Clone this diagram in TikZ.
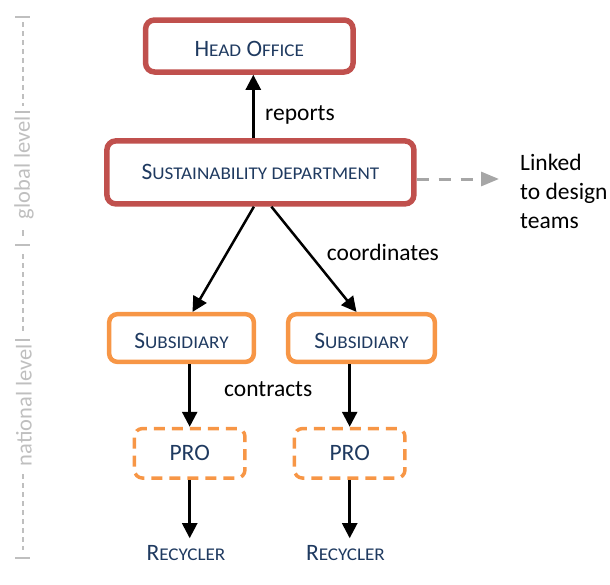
\documentclass[tikz,border=0pt]{standalone}
\usepackage{fontspec}
\setmainfont{Carlito}
\usetikzlibrary{arrows.meta,calc}
\definecolor{boxred}{HTML}{C0504D}
\definecolor{boxorange}{HTML}{F79646}
\definecolor{txtblue}{HTML}{1F3A60}
\definecolor{lvlgray}{HTML}{BFBFBF}
\definecolor{linkgray}{HTML}{A6A6A6}
\newcommand\smc[1]{\scalebox{1.07}[1]{\fontsize{17.9}{20}\selectfont #1}}
\begin{document}
\begin{tikzpicture}[x=1pt,y=-1pt,
  every node/.style={font=\fontsize{23.5}{29}\selectfont},
  redbox/.style={draw=boxred, line width=5.5pt, rounded corners=9pt, text=txtblue, inner sep=0pt},
  orangebox/.style={draw=boxorange, line width=4.5pt, rounded corners=8pt, text=txtblue, inner sep=0pt},
  probox/.style={draw=boxorange, line width=3.5pt, rounded corners=8pt, dash pattern=on 11pt off 7pt, text=txtblue, inner sep=0pt},
  lowtext/.style={text height=21pt, text depth=0pt},
  plaintxt/.style={text=txtblue, inner xsep=0pt, inner ysep=7.5pt},
  flow/.style={line width=2.5pt, -{Triangle[width=15pt,length=15pt]}},
  link/.style={draw=linkgray, line width=3pt, dash pattern=on 12pt off 10pt, -{Triangle[width=14pt,length=18pt,fill=linkgray]}},
  lbl/.style={anchor=base west, inner sep=0pt},
  lvltxt/.style={text=lvlgray, rotate=90, inner sep=0pt, font=\fontsize{22.5}{27}\selectfont},
  lvlline/.style={draw=lvlgray, line width=1.3pt},
  lvldash/.style={draw=lvlgray, line width=1.3pt, dash pattern=on 5pt off 4pt}
]
\useasboundingbox (0,0) rectangle (610,584);

% level indicator
\draw[lvlline] (15,17) -- (30,17);
\draw[lvldash] (23,22) -- (23,106);
\draw[lvlline] (15,112) -- (30,112);
\node[lvltxt] (glob) at (24,167.5) {global level};
\draw[lvlline] (23,230) -- (23,236);
\draw[lvlline] (15,245) -- (30,245);
\draw[lvldash] (23,254) -- (23,334);
\draw[lvlline] (15,340) -- (30,340);
\node[lvltxt] (nat) at (24,405) {national level};
\draw[lvldash] (23,474) -- (23,550);
\draw[lvlline] (15,558) -- (30,558);

% boxes
\node[redbox, lowtext, minimum width=207.5pt, minimum height=52pt] (head) at (249.3,46) {H\smc{EAD} O\smc{FFICE}};
\node[redbox, minimum width=307pt, minimum height=63pt] (sust) at (260.4,172.4) {S\smc{USTAINABILITY DEPARTMENT}};
\node[orangebox, lowtext, minimum width=144.6pt, minimum height=47.6pt] (subL) at (181.5,338) {S\smc{UBSIDIARY}};
\node[orangebox, lowtext, minimum width=146.6pt, minimum height=47.6pt] (subR) at (361.5,338) {S\smc{UBSIDIARY}};
\node[probox, minimum width=110.5pt, minimum height=49.5pt] (proL) at (189.7,453.3) {PRO};
\node[probox, minimum width=110.5pt, minimum height=49.5pt] (proR) at (349.7,453.3) {PRO};
\node[plaintxt] (recL) at (186,553.5) {R\smc{ECYCLER}};
\node[plaintxt] (recR) at (345.5,553.5) {R\smc{ECYCLER}};

% side text
\node[anchor=north west, align=left, inner sep=0pt] (linked) at (520,154) {Linked\\to design\\teams};
\coordinate (linkend) at (499,179);

% connectors
\draw[flow] ([xshift=4pt]head.south |- sust.north) -- ([xshift=4pt]head.south);
\draw[flow] ([xshift=-6.5pt]sust.south) -- ([xshift=11pt]subL.north);
\draw[flow] ([xshift=11pt]sust.south) -- ([xshift=-5pt]subR.north);
\draw[flow] (subL.south -| proL.north) -- (proL.north);
\draw[flow] (subR.south -| proR.north) -- (proR.north);
\draw[flow] (proL.south) -- (proL.south |- recL.north);
\draw[flow] (proR.south) -- (proR.south |- recR.north);
\draw[link] (sust.east |- linkend) -- (linkend);

% labels
\node[lbl] (lreports) at (265,120) {reports};
\node[lbl] (lcoord) at (326.7,260) {coordinates};
\node[lbl] (lcontr) at (224,396.7) {contracts};
\end{tikzpicture}
\end{document}
